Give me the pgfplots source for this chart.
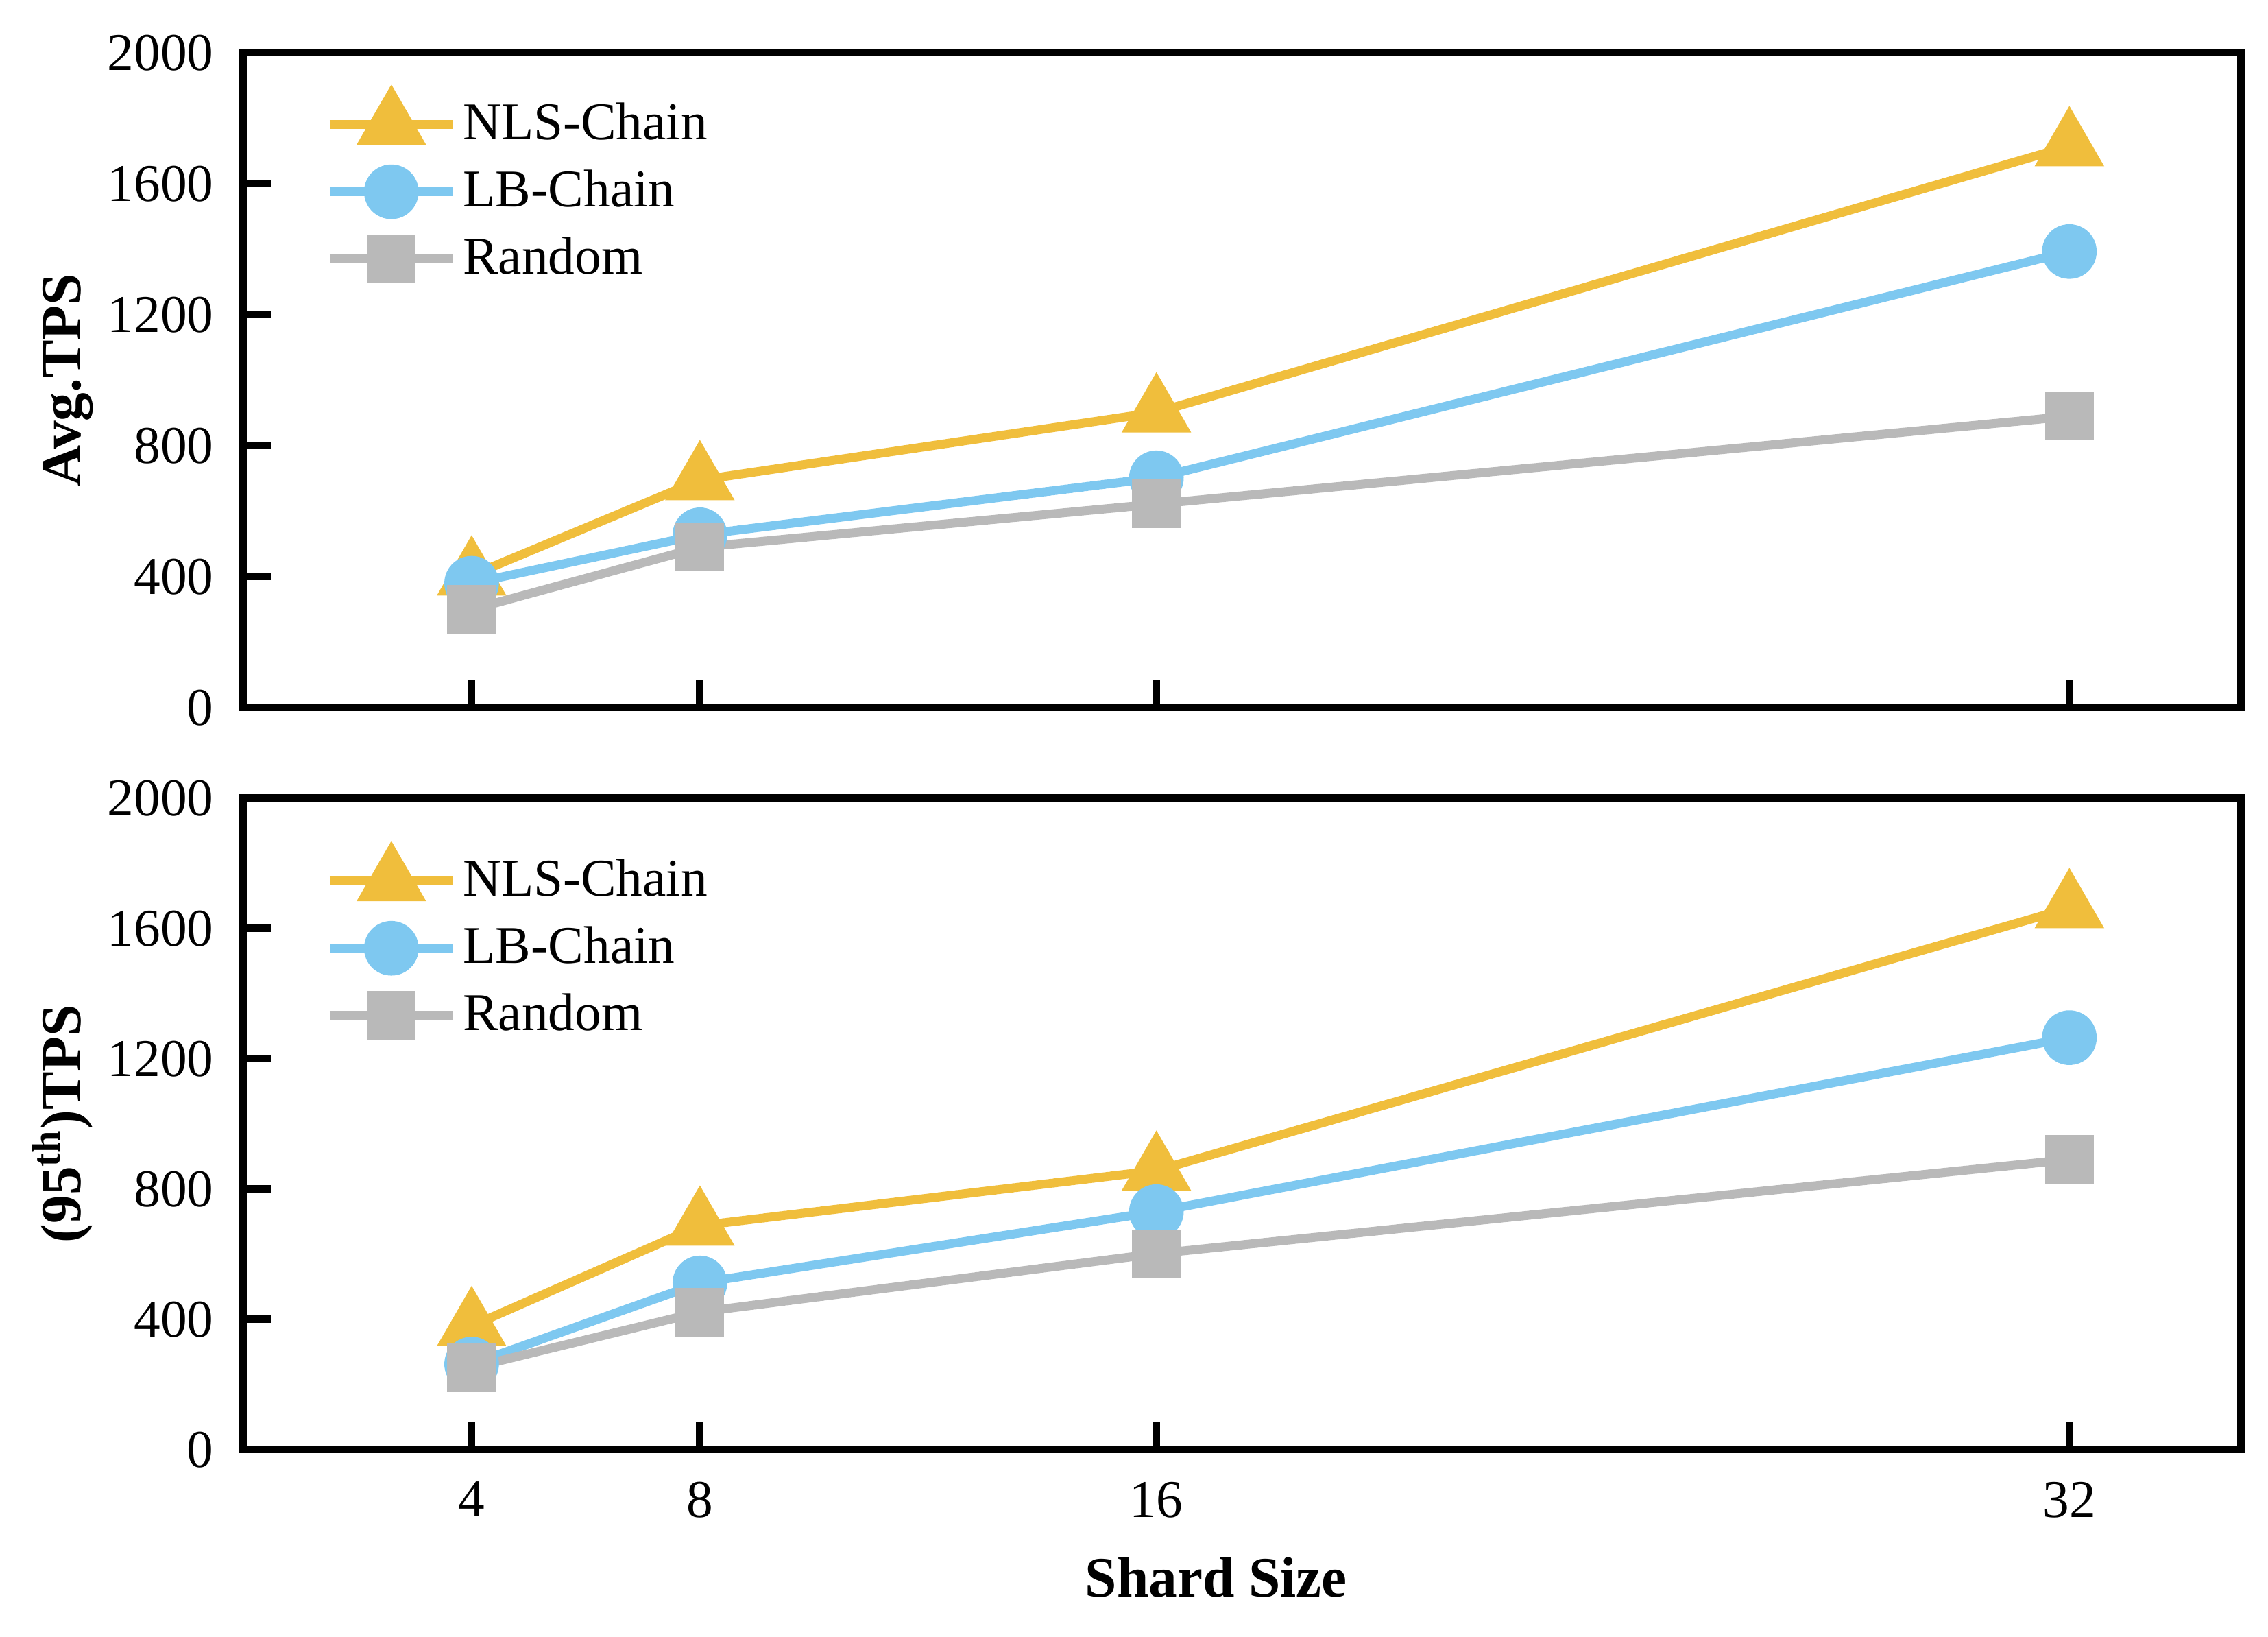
\documentclass[border=0pt]{standalone}
\usepackage{fontspec}
\setmainfont{Liberation Serif}
\usepackage{pgfplots}
\pgfplotsset{compat=1.18}
\definecolor{cy}{RGB}{240,190,60}
\definecolor{cb}{RGB}{126,200,240}
\definecolor{cg}{RGB}{185,185,185}
\pgfplotsset{
  myaxis/.style={
    scale only axis, width=436.95pt,
    xmin=0, xmax=35, ymin=0, ymax=2000,
    xtick={4,8,16,32}, ytick={0,400,800,1200,1600,2000},
    scaled y ticks=false,
    /pgf/number format/1000 sep={},
    /pgf/number format/assume math mode=true,
    tick align=inside, xtick pos=lower, ytick pos=left,
    major tick length=6pt,
    every tick/.style={black, line width=1.65pt},
    axis line style={line width=1.65pt},
    tick label style={font=\fontsize{11.6}{13}\selectfont},
    yticklabel style={xshift=-3.0pt},
    xticklabel style={yshift=-3.5pt},
    ylabel style={at={(axis description cs:-0.0817,0.5)}, anchor=base, font=\fontsize{12.5}{14}\selectfont\bfseries},
    xlabel style={at={(axis description cs:0.4871,-0.2253)}, anchor=base, font=\fontsize{12.5}{14}\selectfont\bfseries},
    legend cell align=left,
    legend image code/.code={
      \draw[mark repeat=2,mark phase=2,#1] plot coordinates {(0pt,0pt) (13.5pt,0pt) (27pt,0pt)};
    },
    legend style={draw=none, fill=none, inner sep=0pt, row sep=4.9pt, column sep=1.2pt,
      nodes={inner sep=0pt, font=\fontsize{11.6}{13}\selectfont}},
    sY/.style={color=cy, line width=1.95pt, mark=triangle*, mark size=6.84pt, mark options={draw=none, fill=cy}},
    sB/.style={color=cb, line width=1.95pt, mark=*, mark size=5pt, mark options={draw=none, fill=cb}},
    sG/.style={color=cg, line width=1.95pt, mark=square*, mark size=4.35pt, mark options={draw=none, fill=cg}},
  }
}
\begin{document}
\begin{tikzpicture}
\useasboundingbox (0,0) rectangle (496.2pt,358.05pt);
\begin{axis}[myaxis, at={(53.25pt,203.25pt)}, anchor=south west, height=143.25pt,
  xticklabels={}, ylabel={Avg.TPS},
  legend style={at={(axis description cs:0.0405,0.795)}, anchor=west}]
\addplot[sY] coordinates {(4,404) (8,695) (16,902) (32,1715)};
\addlegendentry{NLS-Chain}
\addplot[sB] coordinates {(4,380) (8,528) (16,702) (32,1393)};
\addlegendentry{LB-Chain}
\addplot[sG] coordinates {(4,300) (8,490) (16,622) (32,890)};
\addlegendentry{Random}
\end{axis}
\begin{axis}[myaxis, at={(53.25pt,40.95pt)}, anchor=south west, height=142.5pt,
  xticklabels={4,8,16,32}, xlabel={Shard Size}, ylabel={(95\textsuperscript{th})TPS},
  legend style={at={(axis description cs:0.0405,0.777)}, anchor=west}]
\addplot[sY] coordinates {(4,380) (8,688) (16,857) (32,1663)};
\addlegendentry{NLS-Chain}
\addplot[sB] coordinates {(4,263) (8,512) (16,731) (32,1265)};
\addlegendentry{LB-Chain}
\addplot[sG] coordinates {(4,252) (8,423) (16,602) (32,891)};
\addlegendentry{Random}
\end{axis}
\end{tikzpicture}
\end{document}
